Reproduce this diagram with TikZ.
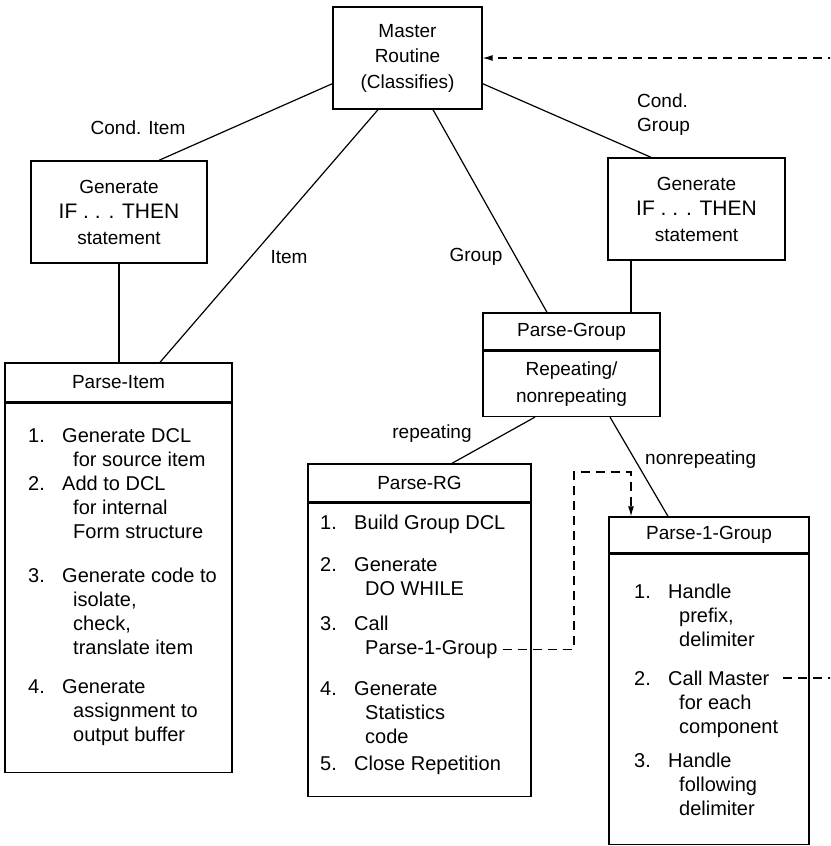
\documentclass[tikz,border=0pt]{standalone}
\usepackage{fontspec}
\setmainfont{Liberation Sans}
\usepackage{tikz}
\usetikzlibrary{arrows.meta}

% numbered step with hanging continuation lines
\newcommand{\num}[1]{\makebox[34pt][l]{#1}}
\newcommand{\more}{\hspace*{45pt}}

\tikzset{
  box/.style={draw, line width=1.4pt, inner sep=0pt, align=center, font=\fontsize{19}{25.5}\selectfont},
  body/.style={draw, line width=1.4pt, inner sep=0pt, anchor=north, align=center, font=\fontsize{19}{27}\selectfont},
  entry/.style={anchor=north west, inner sep=0pt, align=left, font=\fontsize{20}{24}\selectfont},
  tag/.style={inner sep=0pt, font=\fontsize{19}{24}\selectfont},
  link/.style={line width=1.2pt},
  jump/.style={line width=1.1pt, dash pattern=on 9pt off 6pt, -{Latex[length=10pt,width=6pt]}},
}

\begin{document}
\begin{tikzpicture}[x=1pt, y=-1pt]
\useasboundingbox (0,0) rectangle (830,846);
\fill[white] (0,0) rectangle (830,846);
\clip (0,0) rectangle (830,846);

\node[box, minimum width=149pt, minimum height=102pt] (master box) at (407.5,58) {Master\\Routine\\(Classifies)};

\node[box, minimum width=176pt, minimum height=102pt] (item test box) at (119,212) {Generate\\{\fontsize{21}{25.5}\selectfont IF . . . THEN}\\statement};
\node[box, minimum width=177pt, minimum height=102pt] (group test box) at (696.5,209) {Generate\\{\fontsize{21}{25.5}\selectfont IF . . . THEN}\\statement};

% Parse-Item
\node[box, minimum width=227pt, minimum height=39pt] (item box) at (118.5,382.5) {Parse-Item};
\node[body, minimum width=227pt, minimum height=369pt] (item body) at (item box.south) {};
\node[entry] (item 1) at (28,428) {\num{1.}Generate DCL\\\more for source item};
\node[entry] (item 2) at (28,476) {\num{2.}Add to DCL\\\more for internal\\\more Form structure};
\node[entry] (item 3) at (28,568) {\num{3.}Generate code to\\\more isolate,\\\more check,\\\more translate item};
\node[entry] (item 4) at (28,679) {\num{4.}Generate\\\more assignment to\\\more output buffer};

% Parse-Group
\node[box, minimum width=177pt, minimum height=37pt] (group box) at (571.5,331.5) {Parse-Group};
\node[body, minimum width=177pt, minimum height=65pt] (group body) at (group box.south) {Repeating/\\nonrepeating};

% Parse-RG
\node[box, minimum width=223pt, minimum height=38pt] (rg box) at (419.5,483) {Parse-RG};
\node[body, minimum width=223pt, minimum height=293pt] (rg body) at (rg box.south) {};
\node[entry] (rg 1) at (320,515) {\num{1.}Build Group DCL};
\node[entry] (rg 2) at (320,557) {\num{2.}Generate\\\more DO WHILE};
\node[entry] (rg 3) at (320,616) {\num{3.}Call\\\more Parse-1-Group};
\node[entry] (rg 4) at (320,681) {\num{4.}Generate\\\more Statistics\\\more code};
\node[entry] (rg 5) at (320,756) {\num{5.}Close Repetition};

% Parse-1-Group
\node[box, minimum width=200pt, minimum height=36pt] (one box) at (709,535) {Parse-1-Group};
\node[body, minimum width=200pt, minimum height=290pt] (one body) at (one box.south) {};
\node[entry] (one 1) at (634,584) {\num{1.}Handle\\\more prefix,\\\more delimiter};
\node[entry] (one 2) at (634,671) {\num{2.}Call Master\\\more for each\\\more component};
\node[entry] (one 3) at (634,753) {\num{3.}Handle\\\more following\\\more delimiter};

% branch labels
\node[tag] (cond item label) at (138,128) {Cond. Item};
\node[tag] (item label) at (289,257) {Item};
\node[tag] (group label) at (476,257) {Group};
\node[tag, anchor=west, align=left] (cond group label) at (637,115) {Cond.\\Group};
\node[tag] (rep label) at (432,434) {repeating};
\node[tag, anchor=west] (nonrep label) at (645,460) {nonrepeating};

\draw[link] ([yshift=26pt]master box.south west) -- ([xshift=40pt]item test box.north);
\draw[link] ([yshift=26pt]master box.south east) -- ([xshift=-45.5pt]group test box.north);
\draw[link] ([xshift=-29.5pt]master box.south) -- ([xshift=41.5pt]item box.north);
\draw[link] ([xshift=25.5pt]master box.south) -- ([xshift=-24.5pt]group box.north);
\draw[link] (item test box.south) -- (item test box.south |- item box.north);
\draw[link] ([xshift=-65.5pt]group test box.south) -- ([xshift=-65.5pt]group test box.south |- group box.north);
\draw[link] ([xshift=-36.5pt]group body.south) -- ([xshift=32.5pt]rg box.north);
\draw[link] ([xshift=38.5pt]group body.south) -- ([xshift=-41pt]one box.north);

% calls back into Parse-1-Group and the master routine
\coordinate (loop top) at (574,472);
\draw[jump] ([xshift=5pt,yshift=10pt]rg 3.south east) -| (loop top) -| ([xshift=-78pt]one box.north);
\coordinate (rim) at (845,400);
\draw[jump] ([xshift=5pt,yshift=-7pt]one 2.north east) -| (rim) |- (master box.east);
\end{tikzpicture}
\end{document}
